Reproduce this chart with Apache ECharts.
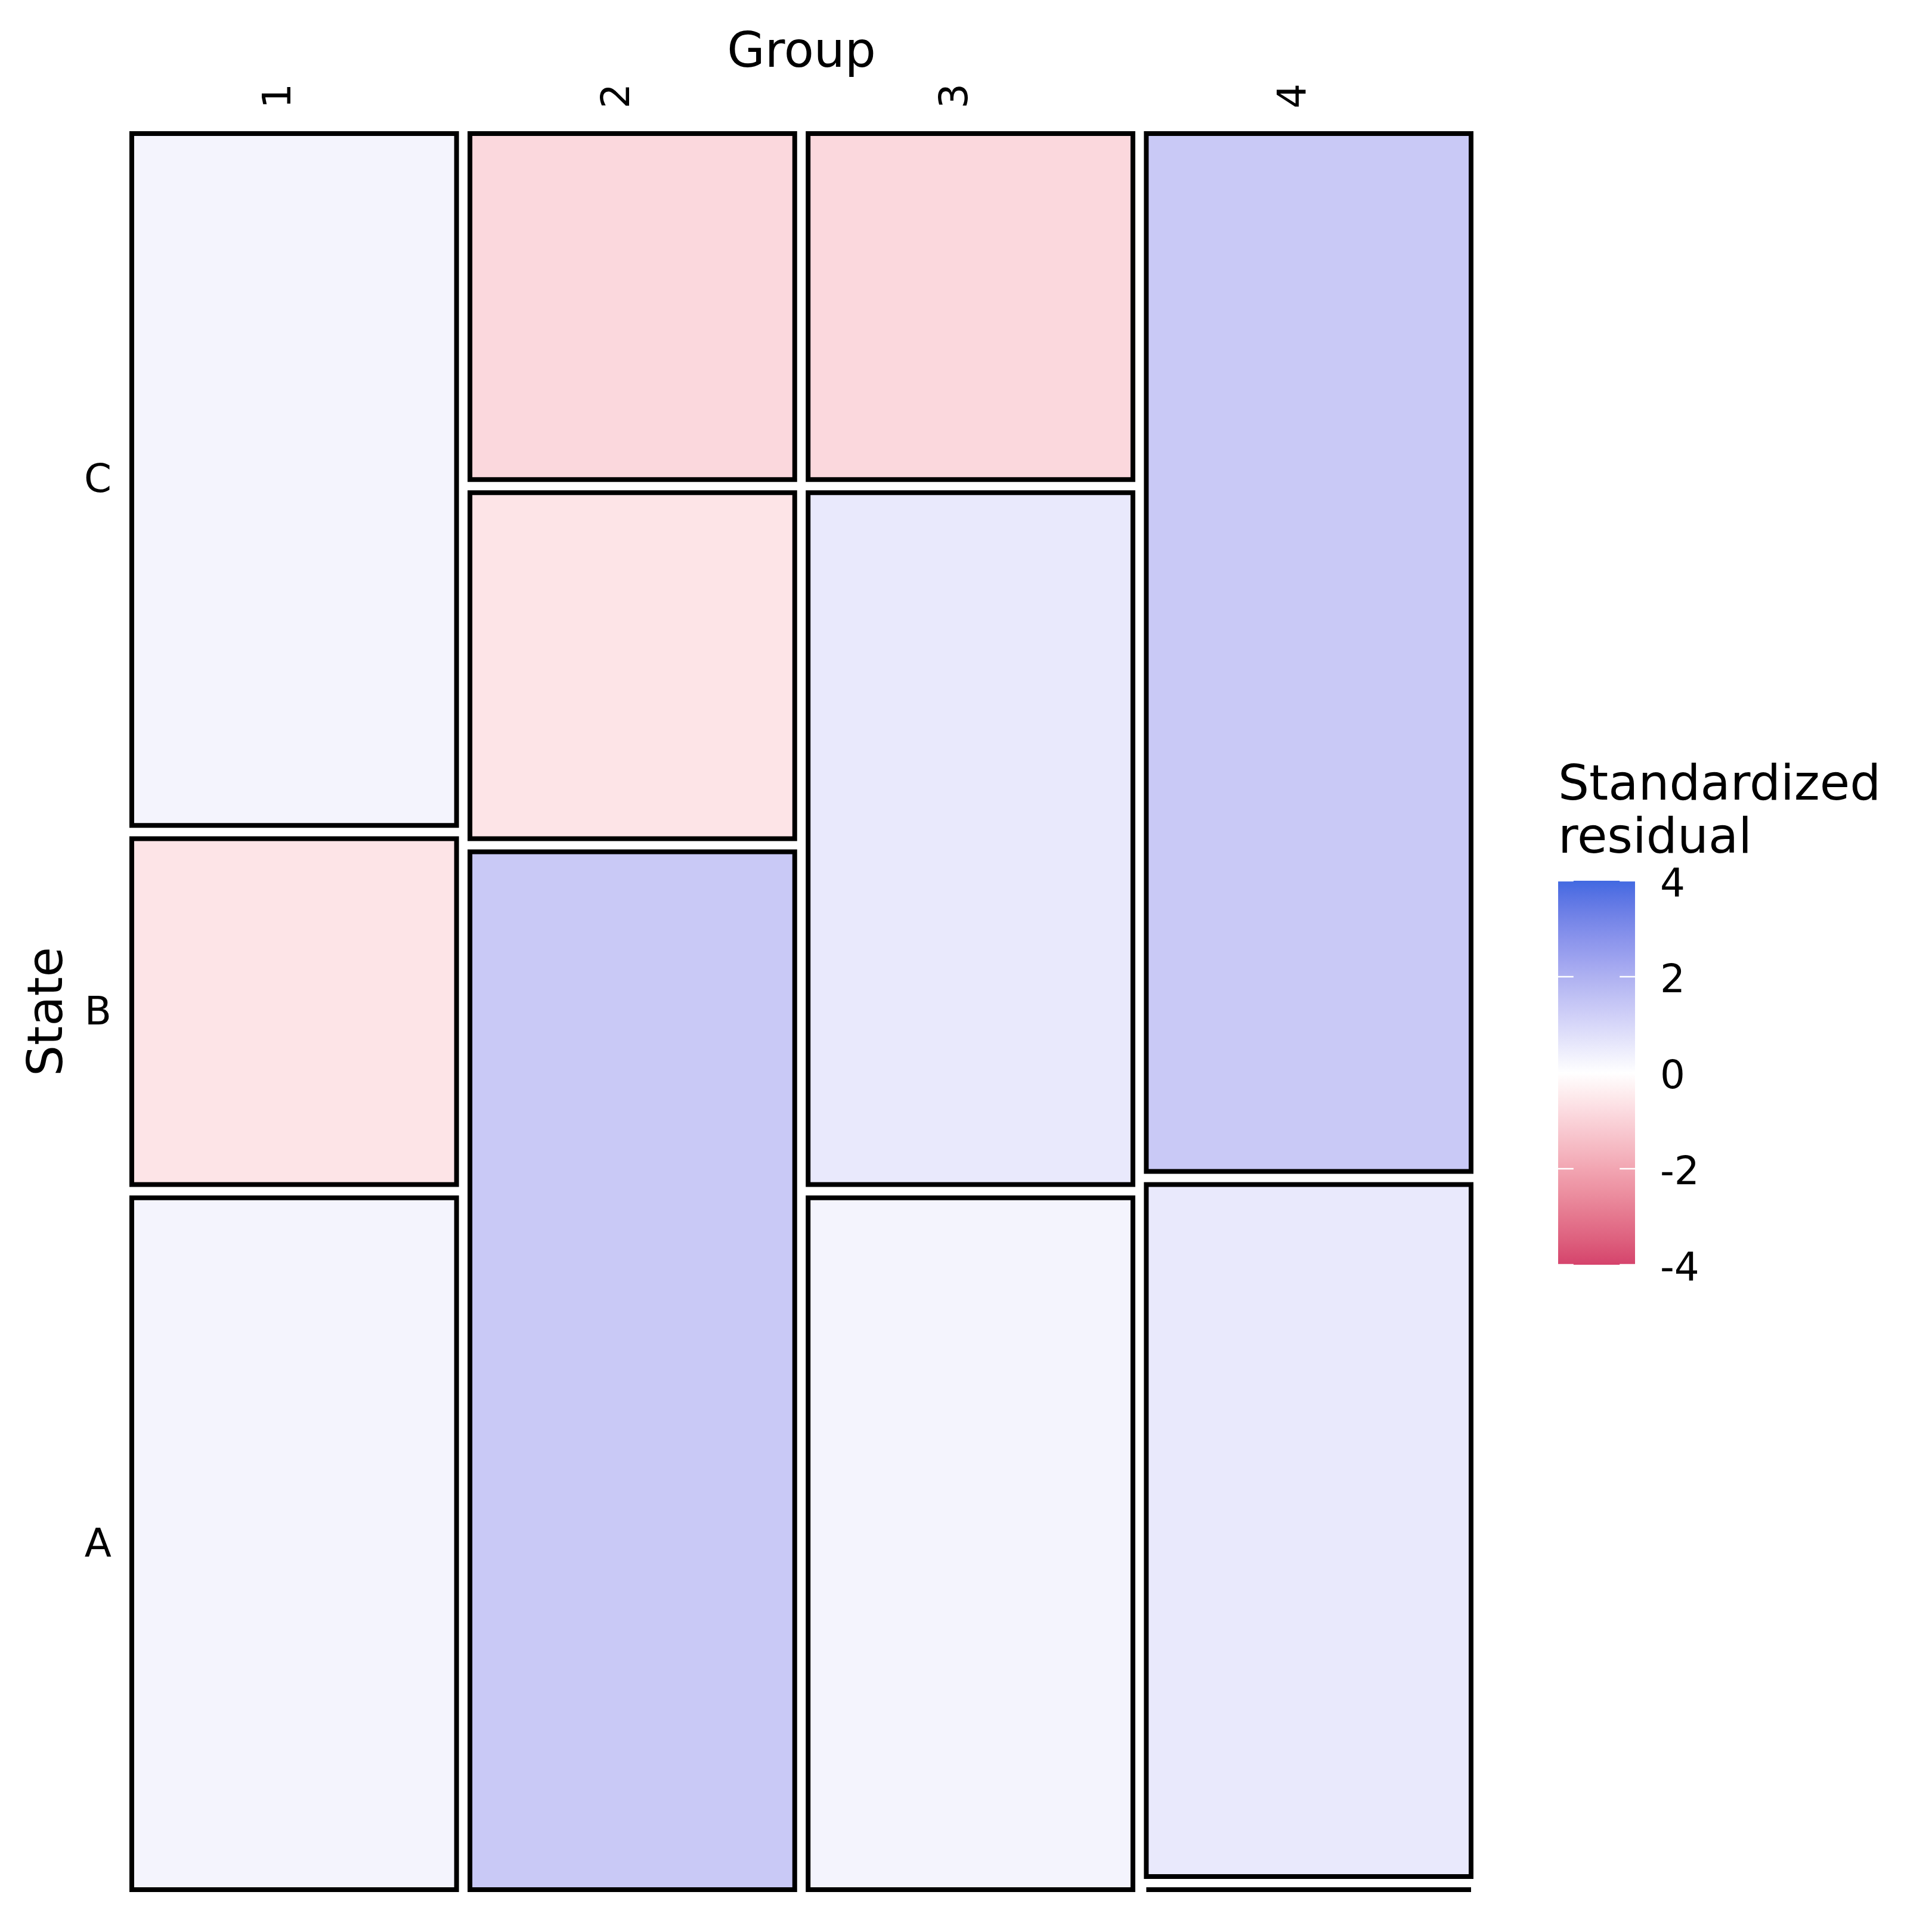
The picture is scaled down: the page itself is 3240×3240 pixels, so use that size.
<!DOCTYPE html>
<html>
<head>
<meta charset="utf-8">
<script src="https://cdn.jsdelivr.net/npm/echarts@6/dist/echarts.min.js"></script>
<style>html,body{margin:0;padding:0;background:#fff}#chart{width:3240px;height:3240px}</style>
</head>
<body>
<div id="chart"></div>
<script>
// ---------------- data ----------------
const groups = ['1', '2', '3', '4'];
const states = ['A', 'B', 'C'];
const groupShare = [0.25, 0.25, 0.25, 0.25];
// share of each state inside each group
const propA = [0.4, 0.6, 0.4, 0.4];
const propB = [0.2, 0.2, 0.4, 0.0];
const propC = [0.4, 0.2, 0.2, 0.6];
// standardized residual of each cell
const residA = [0.28, 1.36, 0.28, 0.56];
const residB = [-0.6, -0.6, 0.56, -1.2];
const residC = [0.28, -0.87, -0.87, 1.36];
const legendTicks = [-4, -2, 0, 2, 4];
const residMin = -4, residMax = 4;
const lowColor = '#d5436c', midColor = '#ffffff', highColor = '#4169e1';

// ---------------- colour ramp (Lab interpolation like ggplot) ----------------
function hexToRgb(h) { h = h.replace('#', ''); return [0, 2, 4].map(i => parseInt(h.substr(i, 2), 16)); }
function s2l(c) { c /= 255; return c <= 0.04045 ? c / 12.92 : Math.pow((c + 0.055) / 1.055, 2.4); }
function l2s(c) { const v = c <= 0.0031308 ? 12.92 * c : 1.055 * Math.pow(c, 1 / 2.4) - 0.055; return Math.round(Math.max(0, Math.min(1, v)) * 255); }
function rgbToLab(rgb) {
  const [R, G, B] = rgb.map(s2l);
  const X = (0.4124 * R + 0.3576 * G + 0.1805 * B) / 0.95047;
  const Y = (0.2126 * R + 0.7152 * G + 0.0722 * B);
  const Z = (0.0193 * R + 0.1192 * G + 0.9505 * B) / 1.08883;
  const f = t => t > 0.008856 ? Math.cbrt(t) : 7.787 * t + 16 / 116;
  const fx = f(X), fy = f(Y), fz = f(Z);
  return [116 * fy - 16, 500 * (fx - fy), 200 * (fy - fz)];
}
function labToHex(lab) {
  const [L, a, b] = lab;
  const fy = (L + 16) / 116, fx = fy + a / 500, fz = fy - b / 200;
  const inv = t => { const t3 = t * t * t; return t3 > 0.008856 ? t3 : (t - 16 / 116) / 7.787; };
  const X = inv(fx) * 0.95047, Y = inv(fy), Z = inv(fz) * 1.08883;
  const R = 3.2406 * X - 1.5372 * Y - 0.4986 * Z;
  const G = -0.9689 * X + 1.8758 * Y + 0.0415 * Z;
  const B = 0.0557 * X - 0.2040 * Y + 1.0570 * Z;
  return '#' + [R, G, B].map(c => l2s(c).toString(16).padStart(2, '0')).join('');
}
const labLow = rgbToLab(hexToRgb(lowColor)), labMid = rgbToLab(hexToRgb(midColor)), labHigh = rgbToLab(hexToRgb(highColor));
const rampN = 33;
const ramp = [];
for (let i = 0; i < rampN; i++) {
  const v = residMin + (residMax - residMin) * i / (rampN - 1);
  let lab;
  if (v < 0) { const t = (v - residMin) / (0 - residMin); lab = labLow.map((c, j) => c + (labMid[j] - c) * t); }
  else { const t = v / residMax; lab = labMid.map((c, j) => c + (labHigh[j] - c) * t); }
  ramp.push(labToHex(lab));
}

// ---------------- mosaic layout ----------------
const gapX = 0.01, gapY = 0.0075;
const props = [propA, propB, propC];
const resids = [residA, residB, residC];
const cells = [];
const xCenters = [];
const yCenters = [];
(function () {
  const usableX = 1 - gapX * (groups.length - 1);
  const usableY = 1 - gapY * (states.length - 1);
  const shareSum = groupShare.reduce((s, v) => s + v, 0);
  let x = 0;
  groups.forEach((g, k) => {
    const w = groupShare[k] * usableX / shareSum;
    const order = states.map((s, i) => i).sort((a, b) => ((props[a][k] > 0) - (props[b][k] > 0)) || (a - b));
    let y = 0;
    order.forEach(i => {
      const h = props[i][k] * usableY;
      cells.push([x, x + w, y, y + h, resids[i][k], g, states[i]]);
      if (k === 0) yCenters[i] = y + h / 2;
      y += h + gapY;
    });
    xCenters.push(x + w / 2);
    x += w + gapX;
  });
})();
function nearestIndex(arr, v) { let best = 0; arr.forEach((c, i) => { if (Math.abs(c - v) < Math.abs(arr[best] - v)) best = i; }); return best; }

const FONT = 'DejaVu Sans';
const chart = echarts.init(document.getElementById('chart'), null, { renderer: 'canvas' });
chart.setOption({
  backgroundColor: '#ffffff',
  animation: false,
  textStyle: { fontFamily: FONT, color: '#000' },
  title: {
    text: 'Standardized\nresidual',
    left: 2608, top: 1270,
    textStyle: { fontFamily: FONT, fontSize: 82, fontWeight: 'normal', color: '#000', lineHeight: 89 }
  },
  grid: [
    { left: 221, top: 224, width: 2246, height: 2945 },
    { left: 2613, top: 1477, width: 129, height: 644 }
  ],
  xAxis: [
    {
      gridIndex: 0, type: 'value', min: 0, max: 1, position: 'top',
      axisLine: { show: false }, axisTick: { show: false }, splitLine: { show: false },
      axisLabel: {
        customValues: xCenters, rotate: 90, margin: 42, fontSize: 66, color: '#000', fontFamily: FONT,
        verticalAlign: 'bottom', lineHeight: 46,
        formatter: v => groups[nearestIndex(xCenters, v)]
      },
      name: 'Group', nameLocation: 'middle', nameGap: 91,
      nameTextStyle: { fontSize: 82, color: '#000', fontFamily: FONT }
    },
    { gridIndex: 1, type: 'value', min: 0, max: 1, show: false }
  ],
  yAxis: [
    {
      gridIndex: 0, type: 'value', min: 0, max: 1,
      axisLine: { show: false }, axisTick: { show: false }, splitLine: { show: false },
      axisLabel: {
        customValues: yCenters, margin: 34, fontSize: 66, color: '#000', fontFamily: FONT,
        verticalAlign: 'top', lineHeight: 8,
        formatter: v => states[nearestIndex(yCenters, v)]
      },
      name: 'State', nameLocation: 'middle', nameGap: 97, nameRotate: 90,
      nameTextStyle: { fontSize: 82, color: '#000', fontFamily: FONT }
    },
    {
      gridIndex: 1, type: 'value', min: residMin, max: residMax, interval: 2, position: 'right',
      axisLine: { show: false }, splitLine: { show: false }, axisTick: { show: false },
      axisLabel: {
        margin: 42, fontSize: 66, color: '#000', fontFamily: FONT,
        verticalAlign: 'top', lineHeight: 18, customValues: legendTicks
      }
    }
  ],
  visualMap: {
    type: 'continuous', show: false, seriesIndex: 0, dimension: 4,
    min: residMin, max: residMax, inRange: { color: ramp }
  },
  series: [
    {
      type: 'custom', xAxisIndex: 0, yAxisIndex: 0, clip: false,
      encode: { x: [0, 1], y: [2, 3] },
      data: cells,
      renderItem: function (params, api) {
        const tl = api.coord([api.value(0), api.value(3)]);
        const br = api.coord([api.value(1), api.value(2)]);
        return {
          type: 'rect',
          shape: { x: tl[0], y: tl[1], width: br[0] - tl[0], height: br[1] - tl[1] },
          style: { fill: api.visual('color'), stroke: '#000000', lineWidth: 8, lineJoin: 'miter' }
        };
      }
    },
    {
      type: 'custom', xAxisIndex: 1, yAxisIndex: 1, clip: false, silent: true,
      encode: { x: [0, 1], y: [2, 3] },
      data: [[0, 1, residMin, residMax]],
      renderItem: function (params, api) {
        const tl = api.coord([api.value(0), api.value(3)]);
        const br = api.coord([api.value(1), api.value(2)]);
        const w = br[0] - tl[0];
        const tickLen = w * 0.2;
        const stops = ramp.slice().reverse().map((c, i) => ({ offset: i / (ramp.length - 1), color: c }));
        const children = [{
          type: 'rect',
          shape: { x: tl[0], y: tl[1], width: w, height: br[1] - tl[1] },
          style: { fill: { type: 'linear', x: 0, y: 0, x2: 0, y2: 1, colorStops: stops } }
        }];
        legendTicks.forEach(t => {
          const p = api.coord([0, t]);
          children.push({ type: 'line', shape: { x1: tl[0], y1: p[1], x2: tl[0] + tickLen, y2: p[1] }, style: { stroke: '#ffffff', lineWidth: 2.5 } });
          children.push({ type: 'line', shape: { x1: br[0] - tickLen, y1: p[1], x2: br[0], y2: p[1] }, style: { stroke: '#ffffff', lineWidth: 2.5 } });
        });
        return { type: 'group', children: children };
      }
    }
  ]
});
</script>
</body>
</html>
